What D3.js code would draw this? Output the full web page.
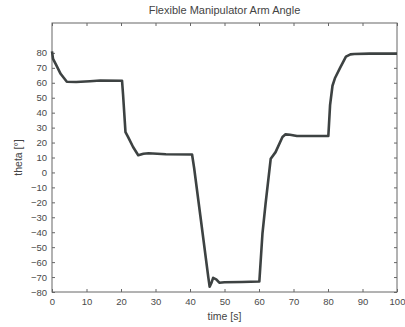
<!DOCTYPE html>
<html>
<head>
<meta charset="utf-8">
<script src="https://cdn.jsdelivr.net/npm/d3@7"></script>
<style>
  body { margin: 0; background: #fff; }
  text { font-family: "Liberation Sans", Arial, sans-serif; }
</style>
</head>
<body>
<div id="chart"></div>
<script>
// arm angle samples
const timeS = [0, 0.3, 1.2, 2.5, 4.3, 7, 11, 14, 20.3, 20.6, 21.3, 22, 23.5, 25, 26.5, 28, 33, 40.6,
  41.2, 43, 45.3, 45.7, 46.2, 46.7, 47.6, 48.5, 50, 55, 60.1, 61, 61.9, 63.4, 64.8, 66.8, 67.7, 69, 71, 80.1,
  80.6, 81.3, 82, 83.5, 85.2, 86.5, 87.6, 92, 100];
const thetaDeg = [81, 76, 72, 66, 60.7, 60.5, 61, 61.5, 61.4, 52, 27, 24, 17, 11.5, 12.5, 12.8, 12.2, 12,
  3, -29, -70, -76.5, -74, -70.5, -71.5, -73.8, -73.5, -73.3, -73, -41, -21, 9.2, 13.6, 23.7, 25.5, 25.2, 24.4, 24.4,
  45, 58, 63, 70, 77.5, 79, 79.3, 79.5, 79.5];

const xTicks = d3.range(0, 101, 10);
const yTicks = d3.range(-80, 81, 10);

const W = 405, H = 327;
const m = { top: 23, right: 8, bottom: 35, left: 52 };

const svg = d3.select('#chart').append('svg')
  .attr('width', W)
  .attr('height', H);

const x = d3.scaleLinear().domain([0, 100]).range([m.left, W - m.right]);
const y = d3.scaleLinear().domain([-80, 100]).range([H - m.bottom, m.top]);

const axisColor = '#666';

// ticks: inward, on all four sides
svg.append('g')
  .attr('transform', `translate(0,${H - m.bottom})`)
  .call(d3.axisBottom(x).tickValues(xTicks).tickSize(-3).tickPadding(6).tickFormat(d3.format('d')))
  .call(g => g.select('.domain').remove());
svg.append('g')
  .attr('transform', `translate(0,${m.top})`)
  .call(d3.axisTop(x).tickValues(xTicks).tickSize(-3).tickFormat(''))
  .call(g => g.select('.domain').remove());
svg.append('g')
  .attr('transform', `translate(${m.left},0)`)
  .call(d3.axisLeft(y).tickValues(yTicks).tickSize(-3).tickPadding(5).tickFormat(d3.format('d')))
  .call(g => g.select('.domain').remove());
svg.append('g')
  .attr('transform', `translate(${W - m.right},0)`)
  .call(d3.axisRight(y).tickValues(yTicks).tickSize(-3).tickFormat(''))
  .call(g => g.select('.domain').remove());

svg.selectAll('.tick line').attr('stroke', axisColor);
svg.selectAll('.tick text')
  .attr('fill', '#4a4a4a')
  .style('font-size', '9.5px');

svg.append('rect')
  .attr('x', m.left)
  .attr('y', m.top)
  .attr('width', W - m.left - m.right)
  .attr('height', H - m.top - m.bottom)
  .attr('fill', 'none')
  .attr('stroke', axisColor)
  .attr('stroke-width', 1);

const line = d3.line()
  .x((d, i) => x(timeS[i]))
  .y(d => y(d));

svg.append('path')
  .datum(thetaDeg)
  .attr('d', line)
  .attr('fill', 'none')
  .attr('stroke', '#3d4242')
  .attr('stroke-width', 2.6)
  .attr('stroke-linejoin', 'round');

svg.append('text')
  .attr('x', (m.left + W - m.right) / 2)
  .attr('y', 14)
  .attr('text-anchor', 'middle')
  .attr('fill', '#444')
  .style('font-size', '11px')
  .text('Flexible Manipulator Arm Angle');

svg.append('text')
  .attr('x', (m.left + W - m.right) / 2)
  .attr('y', 320)
  .attr('text-anchor', 'middle')
  .attr('fill', '#444')
  .style('font-size', '10.5px')
  .text('time [s]');

svg.append('text')
  .attr('transform', `translate(22,${(m.top + H - m.bottom) / 2}) rotate(-90)`)
  .attr('text-anchor', 'middle')
  .attr('fill', '#444')
  .style('font-size', '10.5px')
  .text('theta [°]');
</script>
</body>
</html>
